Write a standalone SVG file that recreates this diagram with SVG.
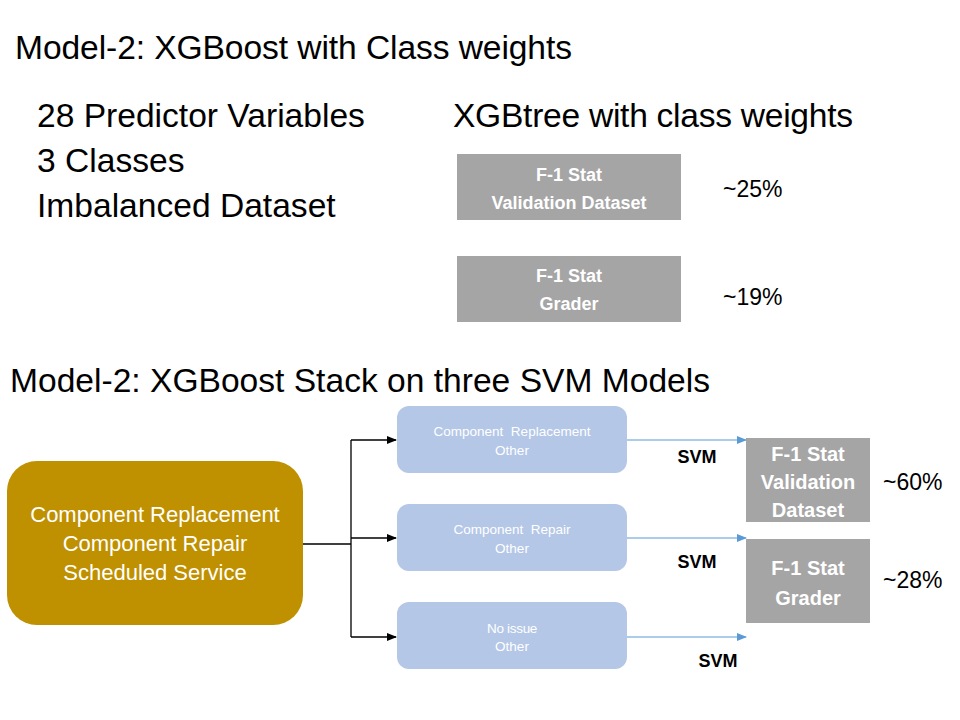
<svg xmlns="http://www.w3.org/2000/svg" width="960" height="720" viewBox="0 0 960 720">
<defs>
<marker id="ab" markerWidth="10" markerHeight="8" refX="9" refY="4" orient="auto" markerUnits="userSpaceOnUse"><path d="M0,0 L10,4 L0,8 Z" fill="#000"/></marker>
<marker id="au" markerWidth="10" markerHeight="8" refX="9" refY="4" orient="auto" markerUnits="userSpaceOnUse"><path d="M0,0 L10,4 L0,8 Z" fill="#5b9bd5"/></marker>
</defs>
<style>
text{font-family:"Liberation Sans",Arial,sans-serif}
.big{font-size:33.6px;fill:#000}
.pct{font-size:23px;fill:#000}
.grey{fill:#a5a5a5}
.gt{font-size:18px;font-weight:bold;fill:#fff}
.gt2{font-size:20px;font-weight:bold;fill:#fff}
.blue{fill:#b4c7e7}
.bt{font-size:13.5px;fill:#fff}
.svm{font-size:18px;font-weight:bold;fill:#000}
.blk{stroke:#000;stroke-width:1.3;fill:none}
.bl{stroke:#5b9bd5;stroke-width:1.2;fill:none}
</style>
<rect width="960" height="720" fill="#fff"/>
<g id="titles">
<text class="big" x="15" y="59" textLength="557">Model-2: XGBoost with Class weights</text>
<text class="big" x="37" y="127">28 Predictor Variables</text>
<text class="big" x="37" y="172">3 Classes</text>
<text class="big" x="37" y="217">Imbalanced Dataset</text>
<text class="big" x="453" y="127" textLength="400">XGBtree with class weights</text>
<text class="big" x="10" y="392" textLength="700">Model-2: XGBoost Stack on three SVM Models</text>
</g>
<g id="f1-val-top">
<rect class="grey" x="457" y="154" width="224" height="66"/>
<text class="gt" x="569" y="181" text-anchor="middle">F-1 Stat</text>
<text class="gt" x="569" y="209" text-anchor="middle">Validation Dataset</text>
<text class="pct" x="723" y="197">~25%</text>
</g>
<g id="f1-grader-top">
<rect class="grey" x="457" y="256" width="224" height="66"/>
<text class="gt" x="569" y="282" text-anchor="middle">F-1 Stat</text>
<text class="gt" x="569" y="310" text-anchor="middle">Grader</text>
<text class="pct" x="723" y="305">~19%</text>
</g>
<g id="classes">
<rect x="7" y="461" width="296" height="164" rx="30" fill="#bf9000"/>
<text x="155" y="522" font-size="22" fill="#fff" text-anchor="middle">Component Replacement</text>
<text x="155" y="551" font-size="22" fill="#fff" text-anchor="middle">Component Repair</text>
<text x="155" y="580" font-size="22" fill="#fff" text-anchor="middle">Scheduled Service</text>
</g>
<g id="svm1">
<rect class="blue" x="397" y="406" width="230" height="67" rx="12"/>
<text class="bt" x="512" y="436" text-anchor="middle" xml:space="preserve">Component  Replacement</text>
<text class="bt" x="512" y="455" text-anchor="middle">Other</text>
</g>
<g id="svm2">
<rect class="blue" x="397" y="504" width="230" height="67" rx="12"/>
<text class="bt" x="512" y="534" text-anchor="middle" xml:space="preserve">Component  Repair</text>
<text class="bt" x="512" y="553" text-anchor="middle">Other</text>
</g>
<g id="svm3">
<rect class="blue" x="397" y="602" width="230" height="67" rx="12"/>
<text class="bt" x="512" y="633" text-anchor="middle" letter-spacing="-0.3">No issue</text>
<text class="bt" x="512" y="651" text-anchor="middle">Other</text>
</g>
<g id="f1-val">
<rect class="grey" x="746" y="438" width="124" height="84"/>
<text class="gt2" x="808" y="461" text-anchor="middle">F-1 Stat</text>
<text class="gt2" x="808" y="489" text-anchor="middle">Validation</text>
<text class="gt2" x="808" y="517" text-anchor="middle">Dataset</text>
<text class="pct" x="883" y="490">~60%</text>
</g>
<g id="f1-grader">
<rect class="grey" x="746" y="539" width="124" height="84"/>
<text class="gt2" x="808" y="575" text-anchor="middle">F-1 Stat</text>
<text class="gt2" x="808" y="605" text-anchor="middle">Grader</text>
<text class="pct" x="883" y="588">~28%</text>
</g>
<g id="connectors">
<path class="blk" d="M303,544 H351 M351,440 V637"/>
<path class="blk" d="M351,440 H396" marker-end="url(#ab)"/>
<path class="blk" d="M351,538 H396" marker-end="url(#ab)"/>
<path class="blk" d="M351,637 H396" marker-end="url(#ab)"/>
<path class="bl" d="M627,440 H746" marker-end="url(#au)"/>
<path class="bl" d="M627,538 H746" marker-end="url(#au)"/>
<path class="bl" d="M627,637 H746" marker-end="url(#au)"/>
<text class="svm" x="697" y="463" text-anchor="middle">SVM</text>
<text class="svm" x="697" y="568" text-anchor="middle">SVM</text>
<text class="svm" x="718" y="667" text-anchor="middle">SVM</text>
</g>
</svg>
